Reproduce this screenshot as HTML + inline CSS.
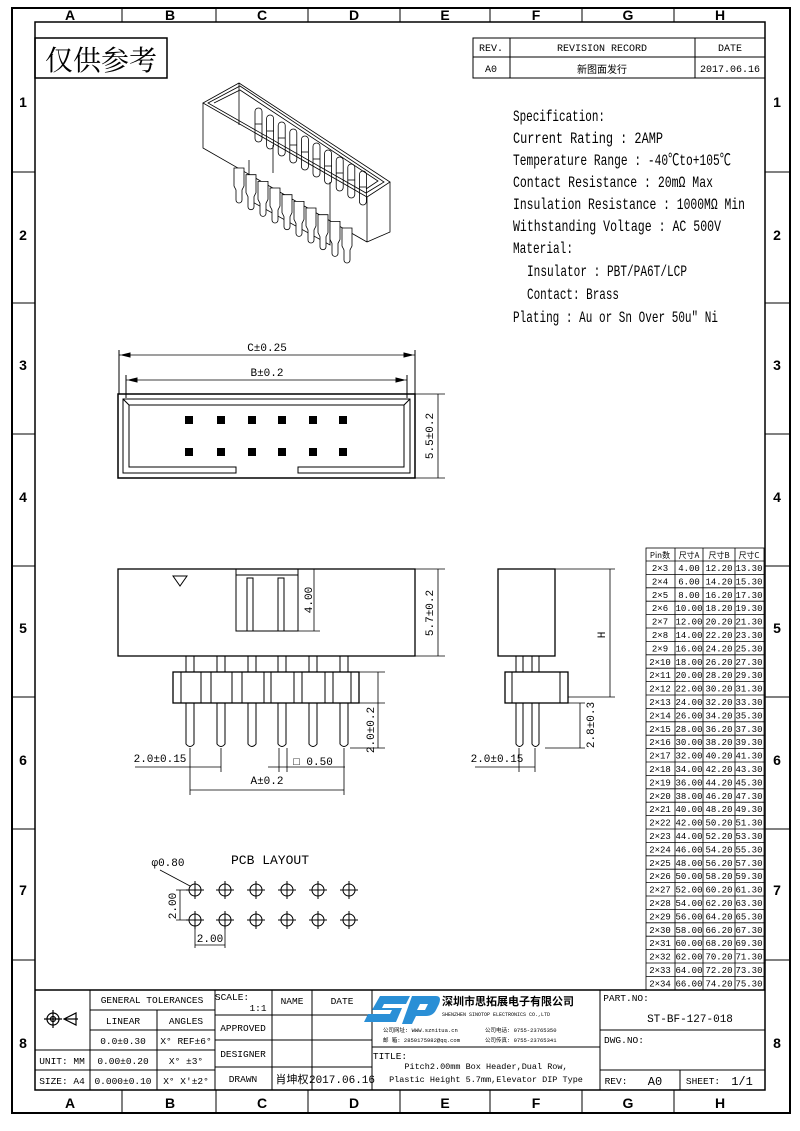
<!DOCTYPE html>
<html><head><meta charset="utf-8"><style>
html,body{margin:0;padding:0;background:#fff}
svg{display:block}
text{font-family:"Liberation Mono","Noto Sans CJK SC",monospace;fill:#000}
.s{font-family:"Liberation Sans",sans-serif;font-weight:bold}
</style></head><body>
<svg width="800" height="1131" viewBox="0 0 800 1131" xmlns="http://www.w3.org/2000/svg">
<g fill="none" stroke="#000">
<rect x="12" y="8" width="778" height="1105" stroke-width="2"/>
<rect x="35" y="22" width="730" height="1068" stroke-width="1.5"/>
<g stroke-width="1">
<path d="M122 8V22M216 8V22M308 8V22M400 8V22M490 8V22M582 8V22M674 8V22"/>
<path d="M122 1090V1113M216 1090V1113M308 1090V1113M400 1090V1113M490 1090V1113M582 1090V1113M674 1090V1113"/>
<path d="M12 172H35M12 303H35M12 434H35M12 566H35M12 697H35M12 829H35M12 960H35"/>
<path d="M765 172H790M765 303H790M765 434H790M765 566H790M765 697H790M765 829H790M765 960H790"/>
</g>
</g>
<g class="s" font-size="14" text-anchor="middle">
<text class="s" x="70" y="20">A</text><text class="s" x="170" y="20">B</text><text class="s" x="262" y="20">C</text><text class="s" x="354" y="20">D</text><text class="s" x="445" y="20">E</text><text class="s" x="536" y="20">F</text><text class="s" x="628" y="20">G</text><text class="s" x="720" y="20">H</text>
<text class="s" x="70" y="1108">A</text><text class="s" x="170" y="1108">B</text><text class="s" x="262" y="1108">C</text><text class="s" x="354" y="1108">D</text><text class="s" x="445" y="1108">E</text><text class="s" x="536" y="1108">F</text><text class="s" x="628" y="1108">G</text><text class="s" x="720" y="1108">H</text>
<text class="s" x="23" y="107">1</text><text class="s" x="23" y="240">2</text><text class="s" x="23" y="370">3</text><text class="s" x="23" y="502">4</text><text class="s" x="23" y="633">5</text><text class="s" x="23" y="765">6</text><text class="s" x="23" y="895">7</text><text class="s" x="23" y="1048">8</text>
<text class="s" x="777" y="107">1</text><text class="s" x="777" y="240">2</text><text class="s" x="777" y="370">3</text><text class="s" x="777" y="502">4</text><text class="s" x="777" y="633">5</text><text class="s" x="777" y="765">6</text><text class="s" x="777" y="895">7</text><text class="s" x="777" y="1048">8</text>
</g>

<rect x="35" y="38" width="132" height="40" fill="none" stroke="#000" stroke-width="1.5"/>
<text x="101" y="70" font-size="28" text-anchor="middle" style="font-family:'Noto Serif CJK SC','Noto Sans CJK SC',serif">仅供参考</text>

<g fill="none" stroke="#000" stroke-width="1"><rect x="473" y="38" width="292" height="40"/><path d="M473 57H765M510 38V78M695 38V78"/></g>
<g font-size="10" text-anchor="middle"><text x="491" y="51">REV.</text><text x="602" y="51">REVISION RECORD</text><text x="730" y="51">DATE</text>
<text x="491" y="72">A0</text><text x="602" y="73" style="font-family:'Noto Sans CJK SC',sans-serif">新图面发行</text><text x="730" y="72">2017.06.16</text></g>

<g font-size="16">
<text x="513" y="121" textLength="92" lengthAdjust="spacingAndGlyphs">Specification:</text>
<text x="513" y="143" textLength="150" lengthAdjust="spacingAndGlyphs">Current Rating : 2AMP</text>
<text x="513" y="165" textLength="218" lengthAdjust="spacingAndGlyphs">Temperature Range : -40℃to+105℃</text>
<text x="513" y="187" textLength="200" lengthAdjust="spacingAndGlyphs">Contact Resistance : 20mΩ Max</text>
<text x="513" y="209" textLength="232" lengthAdjust="spacingAndGlyphs">Insulation Resistance : 1000MΩ Min</text>
<text x="513" y="231" textLength="208" lengthAdjust="spacingAndGlyphs">Withstanding Voltage : AC 500V</text>
<text x="513" y="253" textLength="60" lengthAdjust="spacingAndGlyphs">Material:</text>
<text x="527" y="276" textLength="160" lengthAdjust="spacingAndGlyphs">Insulator : PBT/PA6T/LCP</text>
<text x="527" y="299" textLength="92" lengthAdjust="spacingAndGlyphs">Contact: Brass</text>
<text x="513" y="322" textLength="205" lengthAdjust="spacingAndGlyphs">Plating : Au or Sn Over 50u" Ni</text>
</g>

<!-- iso view -->
<g fill="none" stroke="#000" stroke-width="0.8">
<path d="M203 103L239 83L390 182L367 197Z"/>
<path d="M208 103L240 86L384 182L366 193Z"/>
<path d="M214 103L240 90L378 181L366 189"/>
<path d="M203 103V148L367 242M367 197V242M390 182V232L367 242"/>
<path d="M239 83V125"/>
<path d="M249 160V200L330 245V182M273 145V173"/>
<g id="pu"><rect x="255" y="108" width="7" height="34" rx="3.5"/><path d="M255 124h7"/></g>
<use href="#pu" x="11.6" y="7"/><use href="#pu" x="23.2" y="14"/><use href="#pu" x="34.8" y="21"/><use href="#pu" x="46.4" y="28"/><use href="#pu" x="58" y="35"/><use href="#pu" x="69.6" y="42"/><use href="#pu" x="81.2" y="49"/><use href="#pu" x="92.8" y="56"/><use href="#pu" x="104.4" y="63"/>
<g id="pd"><path d="M234 168h10v18l-2 4v10a3 3 0 0 1-6 0v-10l-2-4z" fill="#fff"/></g>
<use href="#pd" x="12" y="6.7"/><use href="#pd" x="24" y="13.4"/><use href="#pd" x="36" y="20"/><use href="#pd" x="48" y="26.7"/><use href="#pd" x="60" y="33.4"/><use href="#pd" x="72" y="40"/><use href="#pd" x="84" y="46.7"/><use href="#pd" x="96" y="53.4"/><use href="#pd" x="108" y="60"/>
</g>

<!-- top view -->
<g fill="none" stroke="#000" stroke-width="1">
<path d="M119 394V350M415 394V350M126 398V375M407 398V375"/>
<path d="M119 355H415M126 380H407" stroke-width="0.8"/>
<path d="M122 355l8-2v4zM412 355l-8-2v4zM129 380l8-2v4zM404 380l-8-2v4z" fill="#000"/>
<rect x="118" y="394" width="297" height="84" stroke-width="1.5"/>
<path d="M123 399H410V473H298V467H404V405H129V467H236V473H123Z"/>
<path d="M123 399L129 405M410 399L404 405"/>
<path d="M415 394H445M415 478H445M438 394V478" stroke-width="0.8"/>
</g>
<g fill="#000">
<rect x="185" y="416" width="8" height="8"/><rect x="217" y="416" width="8" height="8"/><rect x="248" y="416" width="8" height="8"/><rect x="278" y="416" width="8" height="8"/><rect x="309" y="416" width="8" height="8"/><rect x="339" y="416" width="8" height="8"/>
<rect x="185" y="448" width="8" height="8"/><rect x="217" y="448" width="8" height="8"/><rect x="248" y="448" width="8" height="8"/><rect x="278" y="448" width="8" height="8"/><rect x="309" y="448" width="8" height="8"/><rect x="339" y="448" width="8" height="8"/>
</g>
<g font-size="11" text-anchor="middle"><text x="267" y="351">C±0.25</text><text x="267" y="376">B±0.2</text>
<text transform="translate(433 436) rotate(-90)">5.5±0.2</text></g>

<!-- front view -->
<g fill="none" stroke="#000" stroke-width="1">
<rect x="118" y="569" width="297" height="87" stroke-width="1.3"/>
<path d="M236 569V631H298V569M236 575H298"/>
<rect x="247" y="578" width="6" height="53"/><rect x="278" y="578" width="6" height="53"/>
<path d="M173 576h14l-7 10z"/>
<path d="M298 631H320M314 569V631M415 569H445M415 656H445M438 569V656" stroke-width="0.8"/>
<rect x="173" y="672" width="186" height="31" stroke-width="1.3"/>
<path d="M181 672V703M201 672V703M211 672V703M232 672V703M242 672V703M264 672V703M271 672V703M294 672V703M302 672V703M325 672V703M333 672V703M351 672V703"/>
<g id="fp"><rect x="186" y="656" width="8" height="16"/><path d="M186 703V744q4 5 8 0V703"/></g>
<use href="#fp" x="31"/><use href="#fp" x="62"/><use href="#fp" x="92"/><use href="#fp" x="123"/><use href="#fp" x="154"/>
<path d="M359 672H385M359 703H385M378 672V748M350 748H385" stroke-width="0.8"/>
<path d="M190 748V795M221 748V772M344 748V795M135 767H221M190 790H344M279 748V772M287 748V772M268 767H345" stroke-width="0.8"/>
</g>
<g font-size="11" text-anchor="middle">
<text transform="translate(312 600) rotate(-90)">4.00</text>
<text transform="translate(433 613) rotate(-90)">5.7±0.2</text>
<text transform="translate(374 730) rotate(-90)">2.0±0.2</text>
<text x="160" y="762">2.0±0.15</text><text x="313" y="765">□ 0.50</text><text x="267" y="784">A±0.2</text>
</g>

<!-- side view -->
<g fill="none" stroke="#000" stroke-width="1">
<rect x="498" y="569" width="57" height="87" stroke-width="1.3"/>
<rect x="505" y="672" width="63" height="31" stroke-width="1.3"/>
<path d="M512 672V703M560 672V703"/>
<rect x="516" y="656" width="7" height="16"/><rect x="532" y="656" width="7" height="16"/>
<path d="M516 703V744q3.5 5 7 0V703M532 703V744q3.5 5 7 0V703"/>
<path d="M555 569H615M568 697H615M610 569V697M568 703H585M545 748H585M580 703V748M519 748V772M535 748V772M475 767H535" stroke-width="0.8"/>
</g>
<g font-size="11" text-anchor="middle">
<text transform="translate(605 635) rotate(-90)">H</text>
<text transform="translate(594 725) rotate(-90)">2.8±0.3</text>
<text x="497" y="762">2.0±0.15</text>
</g>

<text x="270" y="864" font-size="13" text-anchor="middle">PCB LAYOUT</text>
<text x="168" y="866" font-size="11" text-anchor="middle">φ0.80</text>
<g fill="none" stroke="#000" stroke-width="1">
<g id="hc"><circle cx="195" cy="890" r="6"/><path d="M186 890h18M195 881v18"/></g>
<use href="#hc" x="30"/><use href="#hc" x="61"/><use href="#hc" x="92"/><use href="#hc" x="123"/><use href="#hc" x="154"/>
<use href="#hc" y="30"/><use href="#hc" x="30" y="30"/><use href="#hc" x="61" y="30"/><use href="#hc" x="92" y="30"/><use href="#hc" x="123" y="30"/><use href="#hc" x="154" y="30"/>
<path d="M160 870L190 886M180 890V920M176 890H186M176 920H186M195 926V948M225 926V948M195 945H225" stroke-width="0.8"/>
</g>
<g font-size="11" text-anchor="middle"><text transform="translate(176 906) rotate(-90)">2.00</text><text x="210" y="942">2.00</text></g>

<g fill="none" stroke="#000" stroke-width="0.8">
<rect x="646" y="548" width="118" height="442"/>
<path d="M675 548V990M703 548V990M735 548V990"/>
<path d="M646 561H764M646 574.4H764M646 587.8H764M646 601.2H764M646 614.6H764M646 628H764M646 641.4H764M646 654.8H764M646 668.2H764M646 681.6H764M646 695H764M646 708.4H764M646 721.8H764M646 735.2H764M646 748.6H764M646 762H764M646 775.4H764M646 788.8H764M646 802.2H764M646 815.6H764M646 829H764M646 842.4H764M646 855.8H764M646 869.2H764M646 882.6H764M646 896H764M646 909.4H764M646 922.8H764M646 936.2H764M646 949.6H764M646 963H764M646 976.4H764"/>
</g>
<g font-size="9" text-anchor="middle" id="tbl">
<text x="660" y="558" style="font-family:'Noto Sans CJK SC',sans-serif" font-size="8">Pin数</text><text x="689" y="558" style="font-family:'Noto Sans CJK SC',sans-serif" font-size="8">尺寸A</text><text x="719" y="558" style="font-family:'Noto Sans CJK SC',sans-serif" font-size="8">尺寸B</text><text x="749" y="558" style="font-family:'Noto Sans CJK SC',sans-serif" font-size="8">尺寸C</text>
</g>
<script>
(function(){var g=document.getElementById('tbl'),ns='http://www.w3.org/2000/svg';
for(var i=0;i<32;i++){var n=i+3,A=2*(n-1),y=571+i*13.4;
var v=['2×'+n,A.toFixed(2),(A+8.2).toFixed(2),(A+9.3).toFixed(2)],xs=[660,689,719,749];
for(var k=0;k<4;k++){var t=document.createElementNS(ns,'text');t.setAttribute('x',xs[k]);t.setAttribute('y',y.toFixed(1));t.textContent=v[k];g.appendChild(t);}}})();
</script>

<g fill="none" stroke="#000" stroke-width="1">
<path d="M35 990H765" stroke-width="1.5"/>
<path d="M90 990V1090M157 1010V1090M215 990V1090M272 990V1090M312 990V1090M372 990V1090M600 990V1090M765 990V1090"/>
<path d="M90 1010H215M90 1030H215M35 1050H215M35 1070H215M215 1015H372M215 1040H372M215 1067H372M372 1047H600M600 1030H765M600 1070H765M680 1070V1090"/>
</g>
<g font-size="9.5" text-anchor="middle">
<text x="152" y="1003">GENERAL TOLERANCES</text><text x="123" y="1024">LINEAR</text><text x="186" y="1024">ANGLES</text>
<text x="123" y="1044">0.0±0.30</text><text x="186" y="1044">X° REF±6°</text>
<text x="62" y="1064">UNIT: MM</text><text x="123" y="1064">0.00±0.20</text><text x="186" y="1064">X° ±3°</text>
<text x="62" y="1084">SIZE: A4</text><text x="123" y="1084">0.000±0.10</text><text x="186" y="1084">X° X'±2°</text>
<text x="232" y="1000">SCALE:</text><text x="258" y="1011">1:1</text><text x="292" y="1004">NAME</text><text x="342" y="1004">DATE</text>
<text x="243" y="1031">APPROVED</text><text x="243" y="1057">DESIGNER</text><text x="243" y="1082">DRAWN</text>
<text x="292" y="1083" style="font-family:'Noto Sans CJK SC',sans-serif" font-size="11">肖坤权</text><text x="342" y="1083" font-size="11">2017.06.16</text>
<text x="390" y="1059">TITLE:</text>
<text x="486" y="1069" font-size="8.5">Pitch2.00mm Box Header,Dual Row,</text>
<text x="486" y="1082" font-size="8.5">Plastic Height 5.7mm,Elevator DIP Type</text>
<text x="626" y="1001">PART.NO:</text><text x="690" y="1022" font-size="11">ST-BF-127-018</text>
<text x="624" y="1043">DWG.NO:</text><text x="616" y="1084">REV:</text><text x="655" y="1085" font-size="12">A0</text>
<text x="703" y="1084">SHEET:</text><text x="742" y="1085" font-size="12">1/1</text>
</g>
<g fill="none" stroke="#000" stroke-width="1.2">
<circle cx="53" cy="1019" r="6"/><circle cx="53" cy="1019" r="2.5"/><path d="M44 1019H62M53 1010V1028M64 1019L76 1013V1025Z M64 1019H78"/>
</g>
<path d="M380 996h30l-4 8h-22l-2 4h20l-6 14h-32l4-8h22l2-4h-20z" fill="#2a8fd6"/>
<path d="M412 996h24q6 0 3 8l-3 6q-3 6-10 6h-10l-4 8h-10z M420 1004l-3 6h8l3-6z" fill="#2a8fd6"/>
<text x="442" y="1005" font-size="11" style="font-family:'Noto Sans CJK SC',sans-serif;font-weight:bold">深圳市思拓展电子有限公司</text>
<text x="442" y="1016" font-size="5">SHENZHEN SINOTOP ELECTRONICS CO.,LTD</text>
<g font-size="5.5" style="font-family:'Noto Sans CJK SC',sans-serif"><text x="383" y="1032">公司网址: WWW.sznitua.cn</text><text x="383" y="1042">邮    箱: 2850175982@qq.com</text><text x="485" y="1032">公司电话: 0755-23765350</text><text x="485" y="1042">公司传真: 0755-23765341</text></g>
</svg>
</body></html>
